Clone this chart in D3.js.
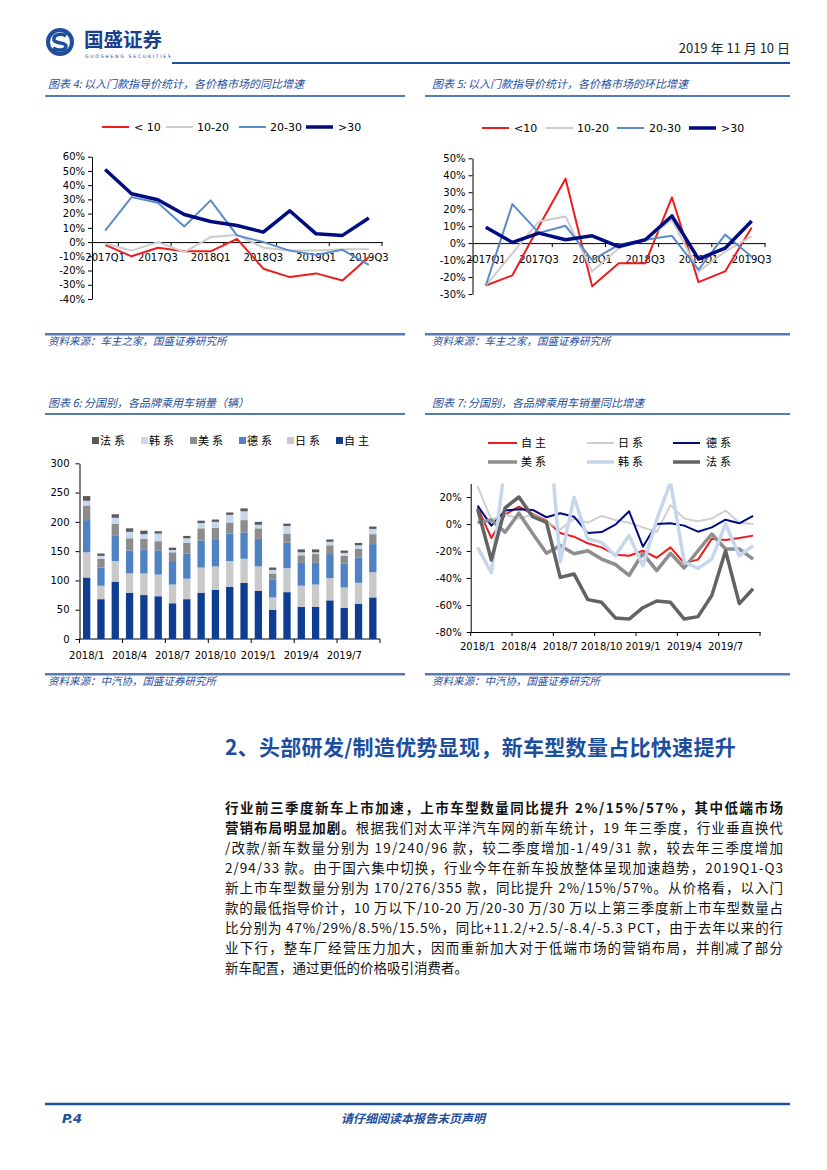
<!DOCTYPE html>
<html><head><meta charset="utf-8">
<script src="https://cdn.jsdelivr.net/npm/d3@7"></script>
<style>body{margin:0;background:#fff}svg{display:block}</style>
</head><body>
<svg id="page" width="827" height="1170"></svg>
<script>
// ---------- DATA ----------
const quarters = ['2017Q1','2017Q2','2017Q3','2017Q4','2018Q1','2018Q2','2018Q3','2018Q4','2019Q1','2019Q2','2019Q3'];
const quarterTickLabels = ['2017Q1','2017Q3','2018Q1','2018Q3','2019Q1','2019Q3'];
const priceBands = ['<10','10-20','20-30','>30'];
// Chart 4: YoY (%)
const yoyLt10   = [-2,-10,-4,-6.5,-6.5,2.3,-18.7,-24.6,-22,-27,-10.5];
const yoy10to20 = [-1,-6,0,-7,3.5,5,-4,-6,-6,-5,-5];
const yoy20to30 = [8,31.6,27.6,11,29.3,4.7,0,-6,-9,-5.4,-16];
const yoyGt30   = [51,34,29.7,19.4,14.5,11.7,7,22,5.8,4.7,16.9];
const yoyTicks  = [-40,-30,-20,-10,0,10,20,30,40,50,60];
// Chart 5: QoQ (%)
const qoqLt10   = [-25,-19,10,38,-25.5,-11.8,-11.8,27,-23,-16.7,9.2];
const qoq10to20 = [-25,-6,12.8,15.7,-16.7,-3,2,13.8,-16.7,-5,4];
const qoq20to30 = [-25,23,6,10.2,-10,-1,2,4.3,-15.7,5,-8];
const qoqGt30   = [9.4,0.4,5.9,2,4.3,-2,2,16,-9.4,-3,13];
const qoqTicks  = [-30,-20,-10,0,10,20,30,40,50];
// Chart 6 & 7
const months = ['2018/1','2018/2','2018/3','2018/4','2018/5','2018/6','2018/7','2018/8','2018/9','2018/10','2018/11','2018/12',
                '2019/1','2019/2','2019/3','2019/4','2019/5','2019/6','2019/7','2019/8','2019/9'];
const monthTickLabels = ['2018/1','2018/4','2018/7','2018/10','2019/1','2019/4','2019/7'];
const origins = ['自主','日系','德系','美系','韩系','法系'];
const salesZizhu   = [105,68,98,79,75,73,61,68,79,84,89,96,82,50,80,55,55,66,53,60,71];
const salesJapan   = [43,23,35,33,37,37,32,35,43,40,44,41,42,21,41,36,38,38,35,36,43];
const salesGermany = [55,31,43,39,41,41,40,43,46,45,47,45,47,30,44,39,37,41,41,43,48];
const salesUSA     = [25,15,21,21,18,16,15,18,21,21,19,21,18,11,15,13,15,15,13,15,17];
const salesKorea   = [8,5,10,11,8,13,4,8,9,10,13,15,6,6,13,5,3,6,5,6,9];
const salesFrance  = [8,4,6,6,6,4,4,4,4,4,4,5,5,4,4,5,5,4,4,4,4];
const salesTicks   = [0,50,100,150,200,250,300];
const growthZizhu   = [12.3,-10.4,7,12.8,7.4,2.5,-6.7,-9.4,-14.3,-17.3,-22.7,-23.5,-19.8,-25,-17.3,-29,-26.4,-11,-11.9,-10.4,-8.6];
const growthJapan   = [28,3,7,4,7,2,-4,4,1,6,3,1,-2.5,-6,14,4,2,4,10,1,0];
const growthGermany = [13.6,-1.2,10,11,10.4,5,8,5.4,-6.7,-6,-0.5,9.4,-16.8,0,0.5,-1.2,-5.7,-2.5,3.2,0.5,6];
const growthUSA     = [1,3,-6,8,-7,-21.7,-16,-22,-19.8,-26,-30,-38,-21.7,-34.6,-21.7,-32.6,-19.8,-7.4,-18.5,-18.5,-26];
const growthKorea   = [-17.3,-36,45,75,80,95,-28,19.8,-11,-13.6,-23.5,-8.6,-31,3,31,-28,-33,-26,0,-23.5,-16];
const growthFrance  = [11,-26.7,12,20,5.4,1.2,-39.5,-37,-56,-58,-69.6,-70.4,-62,-57,-58,-70.4,-68.6,-53,-19.8,-59,-48];
const growthTicks   = [-80,-60,-40,-20,0,20];
// Text
const paraLines = [
 [{t:'行业前三季度新车上市加速，上市车型数量同比提升 2%/15%/57%，其中低端市场', b:true}],
 [{t:'营销布局明显加剧。', b:true},{t:'根据我们对太平洋汽车网的新车统计，19 年三季度，行业垂直换代'}],
 [{t:'/改款/新车数量分别为 19/240/96 款，较二季度增加-1/49/31 款，较去年三季度增加'}],
 [{t:'2/94/33 款。由于国六集中切换，行业今年在新车投放整体呈现加速趋势，2019Q1-Q3'}],
 [{t:'新上市车型数量分别为 170/276/355 款，同比提升 2%/15%/57%。从价格看，以入门'}],
 [{t:'款的最低指导价计，10 万以下/10-20 万/20-30 万/30 万以上第三季度新上市车型数量占'}],
 [{t:'比分别为 47%/29%/8.5%/15.5%，同比+11.2/+2.5/-8.4/-5.3 PCT，由于去年以来的行'}],
 [{t:'业下行，整车厂经营压力加大，因而重新加大对于低端市场的营销布局，并削减了部分'}],
 [{t:'新车配置，通过更低的价格吸引消费者。'}]
];

// ---------- DRAW ----------
const svg = d3.select('#page');
const BLUE = '#1f4e9b';
const CJK = '"Noto Sans CJK SC", sans-serif';
const NUM = '"DejaVu Sans", Verdana, sans-serif';

function txt(x,y,s,o={}){
  return svg.append('text').attr('x',x).attr('y',y).text(s)
    .attr('font-family',o.f||CJK).attr('font-size',o.s||11).attr('fill',o.c||'#000')
    .attr('font-weight',o.w||'normal').attr('font-style',o.i?'italic':'normal')
    .attr('text-anchor',o.a||'start').attr('letter-spacing',o.ls||0);
}
function hline(x1,x2,y,c,w){ svg.append('line').attr('x1',x1).attr('x2',x2).attr('y1',y).attr('y2',y).attr('stroke',c).attr('stroke-width',w); }

// header
const logo = svg.append('g').attr('transform','translate(60,42)');
logo.append('circle').attr('r',14).attr('fill',BLUE);
logo.append('circle').attr('r',10).attr('fill','#fff');
logo.append('path').attr('d','M6,-6 C2,-9 -7,-8 -6,-2 C-5,2 6,0 6,4 C6,9 -3,9 -7,6').attr('fill','none').attr('stroke',BLUE).attr('stroke-width',3.5);
txt(84,47,'国盛证券',{s:19.5,w:'bold',c:'#1a3f8f'});
txt(85,57.5,'GUOSHENG SECURITIES',{s:4.6,c:'#1a3f8f',f:NUM,ls:1.7});
txt(790,53,'2019 年 11 月 10 日',{s:13,c:'#222',a:'end'});
hline(172,790,63,BLUE,2.2);

// chart titles & rules
txt(48,88,'图表 4:  以入门款指导价统计，各价格市场的同比增速',{s:11,c:BLUE,i:true});
txt(432,88,'图表 5:  以入门款指导价统计，各价格市场的环比增速',{s:11,c:BLUE,i:true});
hline(45,405,96,BLUE,1.5); hline(425,790,96,BLUE,1.5);
txt(48,407,'图表 6:  分国别，各品牌乘用车销量（辆）',{s:11,c:BLUE,i:true});
txt(432,407,'图表 7:  分国别，各品牌乘用车销量同比增速',{s:11,c:BLUE,i:true});
hline(45,405,414,BLUE,1.5); hline(425,790,414,BLUE,1.5);
// source rules
[[334,345,'资料来源：车主之家，国盛证券研究所'],[674,685,'资料来源：中汽协，国盛证券研究所']].forEach(([ly,ty,s])=>{
  hline(45,405,ly,BLUE,1.5); hline(45,405,ly+1.5,'#9dc3e6',1);
  hline(425,790,ly,BLUE,1.5); hline(425,790,ly+1.5,'#9dc3e6',1);
  txt(48,ty,s,{s:10.5,c:BLUE,i:true}); txt(432,ty,s,{s:10.5,c:BLUE,i:true});
});

function styleAxis(g){
  g.selectAll('path,line').attr('stroke','#000').attr('stroke-width',1);
  g.selectAll('text').attr('font-family',NUM).attr('font-size',10).attr('fill','#000');
}

// quarterly line charts
function quarterChart(cfg){
  const x = d3.scaleBand().domain(quarters).range([cfg.x0,cfg.x1]);
  const bw = x.bandwidth();
  const y = d3.scaleLinear().domain(cfg.domain).range([cfg.yb,cfg.yt]);
  const gy = svg.append('g').attr('transform',`translate(${cfg.x0},0)`)
    .call(d3.axisLeft(y).tickValues(cfg.ticks).tickSize(4).tickSizeOuter(0).tickPadding(3).tickFormat(d=>d+'%'));
  styleAxis(gy);
  const gx = svg.append('g').attr('transform',`translate(0,${y(0)})`)
    .call(d3.axisBottom(x).tickValues(quarterTickLabels).tickSize(0).tickSizeOuter(0).tickPadding(cfg.pad));
  styleAxis(gx);
  [1,3,5,7,9,11].forEach(k=>{
    svg.append('line').attr('x1',cfg.x0+k*bw).attr('x2',cfg.x0+k*bw).attr('y1',y(0)).attr('y2',y(0)+4).attr('stroke','#000');
  });
  const line = d3.line().x((d,i)=>x(quarters[i])+bw/2).y(d=>y(d));
  cfg.series.forEach(s=>{
    svg.append('path').datum(s.v).attr('d',line).attr('fill','none').attr('stroke',s.c).attr('stroke-width',s.w).attr('stroke-linejoin','round');
  });
  cfg.legend.forEach((L,i)=>{
    const s = cfg.series[i];
    hline(L[0],L[1],cfg.ly,s.c,s.w);
    txt(L[2],cfg.ly+4,L[3],{s:11,f:NUM});
  });
}
const C_RED='#ee1c1c', C_LG='#cccccc', C_SB='#5b8cc8', C_NAVY='#000c80';
quarterChart({x0:92,x1:382,yb:299,yt:156.7,domain:[-40,60],ticks:yoyTicks,pad:12,ly:127,
  series:[{v:yoyLt10,c:C_RED,w:2},{v:yoy10to20,c:C_LG,w:2},{v:yoy20to30,c:C_SB,w:2},{v:yoyGt30,c:C_NAVY,w:3.5}],
  legend:[[102,129,134,'< 10'],[166,193,197,'10-20'],[239,266,270,'20-30'],[306,333,338,'>30']]});
quarterChart({x0:472.5,x1:765,yb:294,yt:158.3,domain:[-30,50],ticks:qoqTicks,pad:13,ly:128,
  series:[{v:qoqLt10,c:C_RED,w:2},{v:qoq10to20,c:C_LG,w:2},{v:qoq20to30,c:C_SB,w:2},{v:qoqGt30,c:C_NAVY,w:3.5}],
  legend:[[482,509,514,'<10'],[546,573,577,'10-20'],[617,644,649,'20-30'],[689,716,721,'>30']]});

// chart 6: stacked bars
(function(){
  const keys = ['zizhu','japan','germany','usa','korea','france'];
  const cols = {zizhu:'#0e3d92',japan:'#c9c9c9',germany:'#4f82c4',usa:'#8c8c8c',korea:'#c7d7ec',france:'#5a5a5a'};
  const arrs = {zizhu:salesZizhu,japan:salesJapan,germany:salesGermany,usa:salesUSA,korea:salesKorea,france:salesFrance};
  const rows = months.map((m,i)=>{const r={m}; keys.forEach(k=>r[k]=arrs[k][i]); return r;});
  const x = d3.scaleBand().domain(months).range([79.5,380]).paddingInner(0.49).paddingOuter(0.245);
  const y = d3.scaleLinear().domain([0,300]).range([639,463.3]);
  const gy = svg.append('g').attr('transform','translate(79.5,0)')
    .call(d3.axisLeft(y).tickValues(salesTicks).tickSize(4).tickSizeOuter(0).tickPadding(6));
  styleAxis(gy);
  const gx = svg.append('g').attr('transform','translate(0,639)')
    .call(d3.axisBottom(x).tickValues(monthTickLabels).tickSize(0).tickSizeOuter(0).tickPadding(12.5));
  styleAxis(gx);
  gx.select('.domain').attr('d','M79.5,0H380');
  for(let k=0;k<=21;k+=3){
    const xx = 79.5 + k*(300.5/21);
    svg.append('line').attr('x1',xx).attr('x2',xx).attr('y1',639).attr('y2',643).attr('stroke','#000');
  }
  const stacked = d3.stack().keys(keys)(rows);
  stacked.forEach(layer=>{
    svg.append('g').selectAll('rect').data(layer).join('rect')
      .attr('x',d=>x(d.data.m)).attr('width',x.bandwidth())
      .attr('y',d=>y(d[1])).attr('height',d=>y(d[0])-y(d[1]))
      .attr('fill',cols[layer.key]);
  });
  const legendKeys = ['france','korea','usa','germany','japan','zizhu'];
  const legendX = [92,141,190,239,287,336];
  legendKeys.forEach((k,i)=>{
    svg.append('rect').attr('x',legendX[i]).attr('y',437).attr('width',7).attr('height',7).attr('fill',cols[k]);
    txt(legendX[i]+8,445,origins[keys.indexOf(k)],{s:11,ls:3});
  });
})();

// chart 7: YoY lines by origin
(function(){
  const x = d3.scaleBand().domain(months).range([470.7,760]);
  const bw = x.bandwidth();
  const y = d3.scaleLinear().domain([-80,30]).range([632,483.5]);
  const gy = svg.append('g').attr('transform','translate(470.7,0)')
    .call(d3.axisLeft(y).tickValues(growthTicks).tickSize(4).tickSizeOuter(0).tickPadding(5).tickFormat(d=>d+'%'));
  styleAxis(gy);
  const gx = svg.append('g').attr('transform','translate(0,632)')
    .call(d3.axisBottom(x).tickValues(monthTickLabels).tickSize(0).tickSizeOuter(0).tickPadding(11));
  styleAxis(gx);
  for(let k=0;k<=21;k+=3){
    const xx = 470.7 + k*bw;
    svg.append('line').attr('x1',xx).attr('x2',xx).attr('y1',632).attr('y2',636).attr('stroke','#000');
  }
  svg.append('clipPath').attr('id','clip7').append('rect').attr('x',470.7).attr('y',483.5).attr('width',300).attr('height',148.5);
  const series = [
    {v:growthZizhu,c:'#ee1c1c',w:2},
    {v:growthJapan,c:'#cfcfcf',w:2},
    {v:growthGermany,c:'#000c80',w:2},
    {v:growthUSA,c:'#8e8e8e',w:3.5},
    {v:growthKorea,c:'#c6d6ec',w:3.5},
    {v:growthFrance,c:'#636363',w:3.5}
  ];
  const line = d3.line().x((d,i)=>x(months[i])+bw/2).y(d=>y(d));
  const g = svg.append('g').attr('clip-path','url(#clip7)');
  series.forEach(s=>{
    g.append('path').datum(s.v).attr('d',line).attr('fill','none').attr('stroke',s.c).attr('stroke-width',s.w).attr('stroke-linejoin','round');
  });
  const pos = [[488,517,521,443],[587,614,618,443],[673,700,706,443],[488,517,521,462],[587,614,618,462],[673,700,706,462]];
  series.forEach((s,i)=>{
    const p = pos[i];
    hline(p[0],p[1],p[3],s.c,s.w);
    txt(p[2],p[3]+4,origins[i],{s:11,ls:3});
  });
})();

// section heading
txt(225,755,'2、头部研发/制造优势显现，新车型数量占比快速提升',{s:21,w:'bold',c:'#1b4f9e',ls:0.3});

// paragraph
paraLines.forEach((segs,i)=>{
  const t = svg.append('text').attr('x',225).attr('y',813+i*20)
    .attr('font-family',CJK).attr('font-size',13.5).attr('fill','#111');
  segs.forEach(s=>t.append('tspan').text(s.t).attr('font-weight',s.b?'bold':'normal'));
  if(i<paraLines.length-1) t.attr('textLength',558).attr('lengthAdjust','spacing');
});

// footer
hline(45,790,1104,BLUE,2.5);
txt(62,1123,'P.4',{s:13,w:'bold',i:true,c:BLUE,f:NUM});
txt(413,1123,'请仔细阅读本报告末页声明',{s:12,w:'bold',i:true,c:BLUE,a:'middle'});
</script>
</body></html>
